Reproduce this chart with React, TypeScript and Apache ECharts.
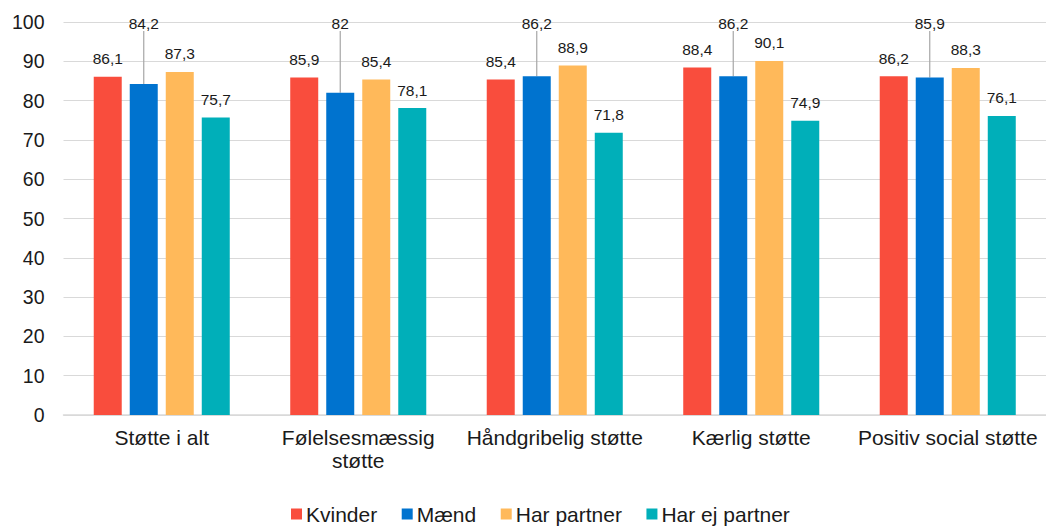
import React, { useEffect, useRef } from "react";
import * as echarts from "echarts";

const categories = [
  "Støtte i alt",
  "Følelsesmæssig støtte",
  "Håndgribelig støtte",
  "Kærlig støtte",
  "Positiv social støtte",
];
const seriesNames = ["Kvinder", "Mænd", "Har partner", "Har ej partner"];
const kvinder = [86.1, 85.9, 85.4, 88.4, 86.2];
const maend = [84.2, 82, 86.2, 86.2, 85.9];
const harPartner = [87.3, 85.4, 88.9, 90.1, 88.3];
const harEjPartner = [75.7, 78.1, 71.8, 74.9, 76.1];
const colors = ["#F94D3D", "#0073CF", "#FFB95A", "#00AFB9"];

const FONT = "'Liberation Sans', Arial, sans-serif";

export default function App() {
  const ref = useRef<HTMLDivElement>(null);
  useEffect(() => {
    if (!ref.current) return;
    const chart = echarts.init(ref.current, null, { renderer: "svg" });
    const fmt = (p: any) => String(p.value).replace(".", ",");
    const baseLabel = {
      show: true,
      position: "top",
      distance: 10,
      fontSize: 15.5,
      fontFamily: FONT,
      color: "#1a1a1a",
      formatter: fmt,
    };
    const values = [kvinder, maend, harPartner, harEjPartner];
    const series = values.map((data, i) => {
      const s: any = {
        name: seriesNames[i],
        type: "bar",
        data,
        barWidth: 28,
        barGap: "28.6%",
        itemStyle: { color: colors[i] },
        label: { ...baseLabel },
      };
      if (i === 1) {
        s.labelLayout = (p: any) => ({
          x: p.rect.x + p.rect.width / 2,
          y: 23,
          align: "center",
          verticalAlign: "middle",
        });
        s.labelLine = { show: true, lineStyle: { color: "#a6a6a6", width: 1.2 } };
      }
      return s;
    });
    chart.setOption({
      animation: false,
      textStyle: { fontFamily: FONT },
      grid: { left: 63.5, top: 22, width: 992, height: 393 },
      legend: {
        data: seriesNames,
        left: 291,
        top: 503.5,
        padding: 0,
        icon: "rect",
        itemWidth: 11,
        itemHeight: 11,
        itemGap: 24.5,
        textStyle: { fontSize: 21, color: "#1a1a1a", fontFamily: FONT, padding: [0, 0, 0, -1] },
      },
      xAxis: {
        type: "category",
        data: categories,
        axisLine: { lineStyle: { color: "#d9d9d9", width: 1.5 } },
        axisTick: { show: false },
        axisLabel: {
          fontSize: 21,
          fontFamily: FONT,
          color: "#1a1a1a",
          margin: 11,
          lineHeight: 23,
          interval: 0,
          formatter: (v: string) => (v === "Følelsesmæssig støtte" ? "Følelsesmæssig\nstøtte" : v),
        },
      },
      yAxis: {
        type: "value",
        min: 0,
        max: 100,
        interval: 10,
        axisLine: { show: false },
        axisTick: { show: false },
        splitLine: { lineStyle: { color: "#d9d9d9", width: 1.2 } },
        axisLabel: { fontSize: 19.5, fontFamily: FONT, color: "#1a1a1a", margin: 19 },
      },
      series,
    });
    return () => chart.dispose();
  }, []);
  return (
    <div
      ref={ref}
      style={{ position: "fixed", left: 0, top: 0, width: 1046, height: 527, background: "#fff" }}
    />
  );
}
